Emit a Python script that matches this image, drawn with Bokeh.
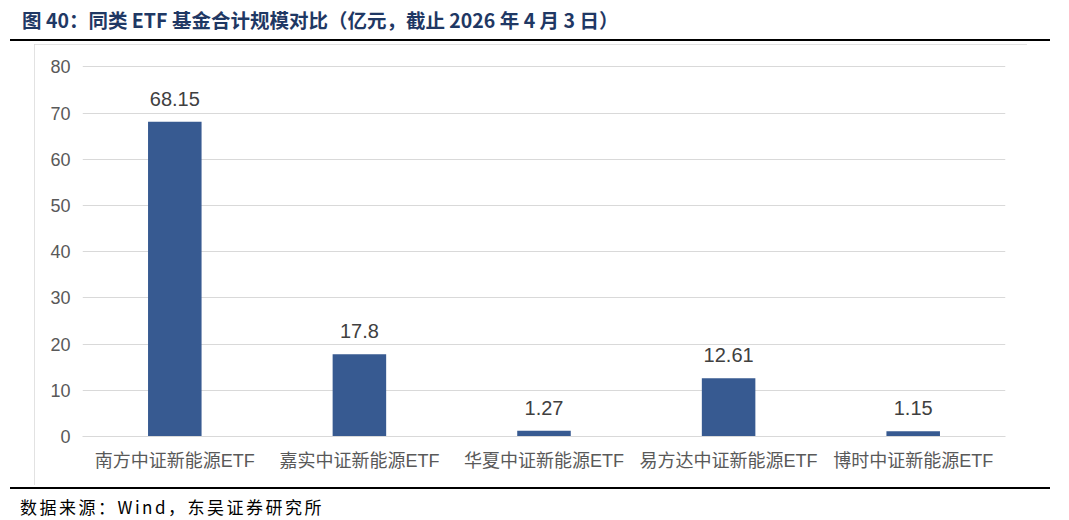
from bokeh.plotting import figure
from bokeh.models import ColumnDataSource, FixedTicker, Range1d, Div
from bokeh.layouts import column
from bokeh.core.properties import value
from bokeh.embed import file_html
from bokeh.resources import INLINE

categories = ["南方中证新能源ETF", "嘉实中证新能源ETF", "华夏中证新能源ETF", "易方达中证新能源ETF", "博时中证新能源ETF"]
scale_values = [68.15, 17.8, 1.27, 12.61, 1.15]
value_labels = ["68.15", "17.8", "1.27", "12.61", "1.15"]
y_ticks = [0, 10, 20, 30, 40, 50, 60, 70, 80]

title_text = "图 40：同类 ETF 基金合计规模对比（亿元，截止 2026 年 4 月 3 日）"
source_text = "数据来源：Wind，东吴证券研究所"

src = ColumnDataSource(dict(cat=categories, val=scale_values, lab=value_labels))

# ---- title block with rule ----
title_html = (
    '<div style="position:relative;width:1050px;height:42px;">'
    '<div style="position:absolute;left:22px;top:8px;white-space:nowrap;'
    "font-family:'Noto Sans CJK SC';font-weight:bold;font-size:19.5px;line-height:24px;color:#1F3864;\">"
    + title_text +
    '</div>'
    '<div style="position:absolute;left:10px;top:39px;width:1040px;height:2px;background:#000;"></div>'
    '</div>'
)
title_div = Div(text=title_html, width=1050, height=42, margin=(0, 0, 0, 0))

# ---- chart ----
p = figure(x_range=categories, y_range=Range1d(0, 80.3), width=993, height=441,
           output_backend="svg", toolbar_location=None, tools="",
           min_border_left=48, min_border_right=22, min_border_top=21, min_border_bottom=49,
           margin=(2, 0, 0, 34),
           styles={"outline": "1px solid #d9d9d9", "outline-offset": "-1px"})
p.outline_line_color = None
p.background_fill_color = "white"
p.border_fill_color = "white"

p.vbar(x="cat", top="val", width=0.29, source=src, fill_color="#375A91", line_color=None)
p.text(x="cat", y="val", text="lab", source=src, text_align="center", text_baseline="alphabetic",
       y_offset=-23, text_font=value("Liberation Sans"), text_font_size="20px", text_color="#404040")

p.xgrid.grid_line_color = None
p.ygrid.grid_line_color = "#d9d9d9"
p.ygrid.grid_line_width = 1

p.yaxis.ticker = FixedTicker(ticks=y_ticks)
p.yaxis.axis_line_color = None
p.yaxis.major_tick_line_color = None
p.yaxis.minor_tick_line_color = None
p.yaxis.major_tick_out = 0
p.yaxis.major_label_standoff = 12
p.yaxis.major_label_text_font = "Liberation Sans"
p.yaxis.major_label_text_font_size = "18px"
p.yaxis.major_label_text_color = "#595959"

p.xaxis.axis_line_color = "#d9d9d9"
p.xaxis.major_tick_line_color = None
p.xaxis.minor_tick_line_color = None
p.xaxis.major_tick_out = 0
p.xaxis.major_label_standoff = 14
p.xaxis.major_label_text_font = "'Liberation Sans', 'Noto Sans CJK SC'"
p.xaxis.major_label_text_font_size = "18px"
p.xaxis.major_label_text_color = "#595959"
p.x_range.range_padding = 0

# ---- source block with rule ----
source_html = (
    '<div style="position:relative;width:1050px;height:33px;">'
    '<div style="position:absolute;left:10px;top:2px;width:1040px;height:2px;background:#000;"></div>'
    '<div style="position:absolute;left:20px;top:11px;white-space:nowrap;letter-spacing:2.5px;'
    "font-family:'Noto Sans CJK SC';font-size:17px;line-height:22px;color:#000;\">"
    + source_text +
    '</div>'
    '</div>'
)
source_div = Div(text=source_html, width=1050, height=33, margin=(0, 0, 0, 0))

layout = column(title_div, p, source_div, spacing=0)
open("out.html", "w").write(file_html(layout, INLINE))
